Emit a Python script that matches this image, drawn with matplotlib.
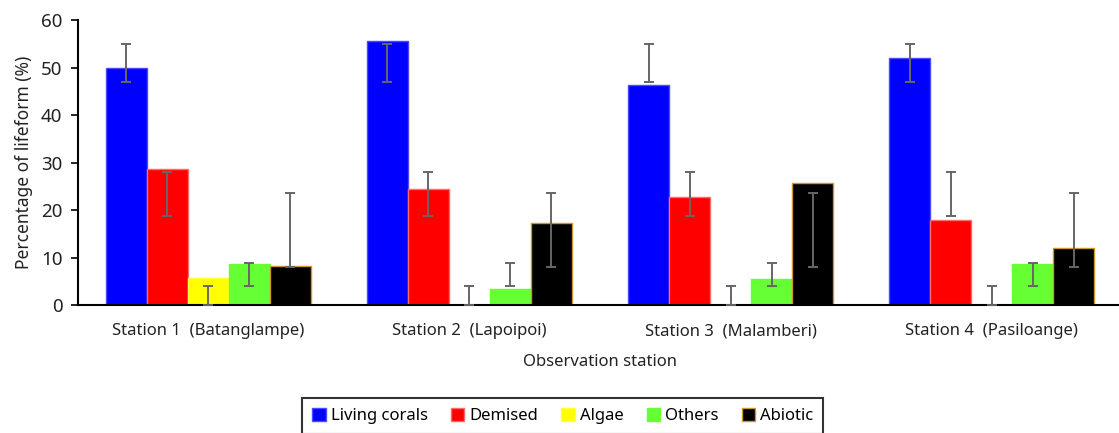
import numpy as np
import matplotlib
matplotlib.use("Agg")
import matplotlib.pyplot as plt
from matplotlib.patches import Patch

plt.rcParams['font.family'] = ['Noto Sans', 'DejaVu Sans']

stations = ['Station 1  (Batanglampe)', 'Station 2  (Lapoipoi)',
            'Station 3  (Malamberi)', 'Station 4  (Pasiloange)']
categories = ['Living corals', 'Demised', 'Algae', 'Others', 'Abiotic']

living = [50.0, 55.6, 46.3, 51.9]
demised = [28.6, 24.5, 22.7, 17.9]
algae = [5.7, 0.0, 0.0, 0.0]
others = [8.6, 3.4, 5.4, 8.6]
abiotic = [8.2, 17.2, 25.7, 11.9]

# error ranges (same at every station)
err_low = [47.0, 18.8, 0.0, 3.9, 8.1]
err_high = [54.9, 27.9, 4.1, 8.9, 23.5]

colors = ['#0000ff', '#ff0000', '#ffff00', '#66ff33', '#000000']
edges = ['#4a4aff', '#ff6a6a', '#ffff40', '#66ff33', '#c8962a']

values = [living, demised, algae, others, abiotic]

fig = plt.figure(figsize=(11.19, 4.33), dpi=100)
ax = fig.add_axes([0.0694, 0.2956, 0.9336, 0.6582])

x = np.arange(len(stations))
w = 0.157
for i, vals in enumerate(values):
    pos = x + (i - 2) * w
    ax.bar(pos, vals, w, color=colors[i], edgecolor=edges[i], linewidth=1.0, zorder=2)
    lo = np.full(len(x), err_low[i])
    hi = np.full(len(x), err_high[i])
    mid = (lo + hi) / 2
    ax.errorbar(pos, mid, yerr=[mid - lo, hi - mid], fmt='none', ecolor='#666666',
                elinewidth=1.4, capsize=3.3, capthick=1.4, zorder=3)

ax.set_xlim(-0.5, 3.5)
ax.set_ylim(0, 60)
ax.set_yticks([0, 10, 20, 30, 40, 50, 60])
ax.set_xticks(x)
ax.set_xticklabels(stations, fontsize=12)
ax.tick_params(axis='x', length=0, pad=13)
ax.tick_params(axis='y', labelsize=13.5, length=5, width=1.2, pad=6, colors='black')
for lab in ax.get_yticklabels() + ax.get_xticklabels():
    lab.set_color('#222222')
ax.spines['top'].set_visible(False)
ax.spines['right'].set_visible(False)
ax.spines['left'].set_linewidth(1.5)
ax.spines['bottom'].set_linewidth(1.5)
ax.set_ylabel('Percentage of lifeform (%)', fontsize=12.5, color='#222222', labelpad=6)
ax.set_xlabel('Observation station', fontsize=12, color='#222222', labelpad=11)

handles = [Patch(facecolor=colors[i], edgecolor=edges[i], label=categories[i]) for i in range(5)]
leg = fig.legend(handles=handles, loc='upper center', bbox_to_anchor=(0.503, 0.10),
                 ncol=5, fontsize=12, frameon=True, fancybox=False,
                 handlelength=0.8, handleheight=0.8, handletextpad=0.3,
                 columnspacing=1.4, borderpad=0.6)
leg.get_frame().set_edgecolor('black')
leg.get_frame().set_linewidth(1.5)

fig.savefig('out.png', dpi=100)
